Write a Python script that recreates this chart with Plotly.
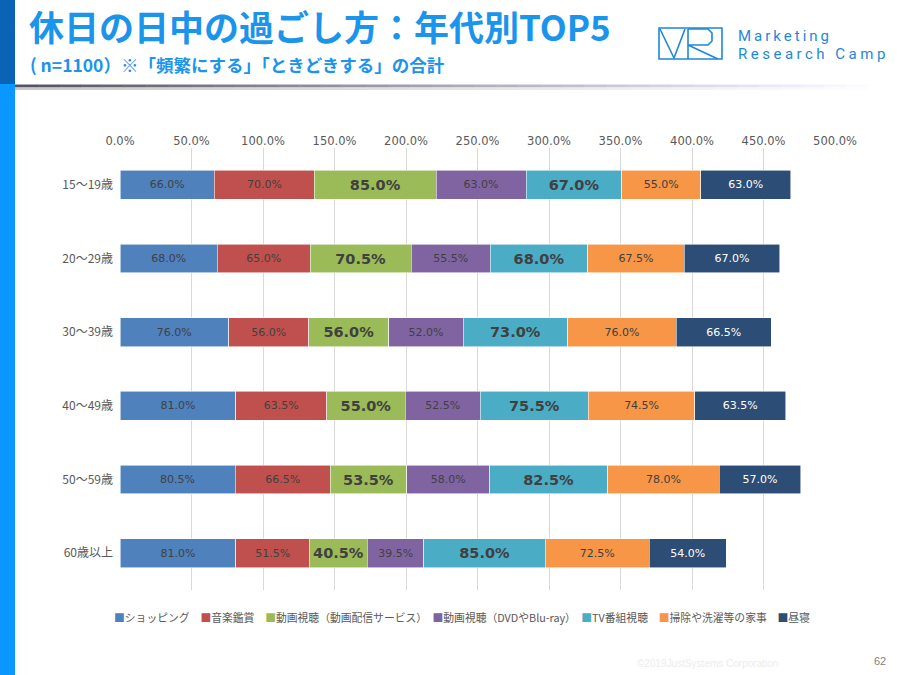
import plotly.graph_objects as go

# ---- data ----
age_groups = ["15〜19歳", "20〜29歳", "30〜39歳", "40〜49歳", "50〜59歳", "60歳以上"]
series_names = ["ショッピング", "音楽鑑賞", "動画視聴（動画配信サービス）", "動画視聴（DVDやBlu-ray）",
                "TV番組視聴", "掃除や洗濯等の家事", "昼寝"]
shopping = [66.0, 68.0, 76.0, 81.0, 80.5, 81.0]
music = [70.0, 65.0, 56.0, 63.5, 66.5, 51.5]
streaming = [85.0, 70.5, 56.0, 55.0, 53.5, 40.5]
dvd = [63.0, 55.5, 52.0, 52.5, 58.0, 39.5]
tv = [67.0, 68.0, 73.0, 75.5, 82.5, 85.0]
housework = [55.0, 67.5, 76.0, 74.5, 78.0, 72.5]
nap = [63.0, 67.0, 66.5, 63.5, 57.0, 54.0]
x_ticks = [0, 50, 100, 150, 200, 250, 300, 350, 400, 450, 500]

series_values = [shopping, music, streaming, dvd, tv, housework, nap]
colors = ["#4F81BD", "#C0504D", "#9BBB59", "#8064A2", "#4BACC6", "#F79646", "#2C4D75"]
bold_flags = [False, False, True, False, True, False, False]
label_colors = ["#404040"] * 6 + ["#FFFFFF"]

W, H = 900, 675
ML, MR, MT, MB = 120, 65, 148, 85
PW, PH = W - ML - MR, H - MT - MB


def fx(px):
    return (px - ML) / PW


def fy(py):
    return (H - MB - py) / PH


JP = "Noto Sans CJK JP, sans-serif"
NUM = "DejaVu Sans, Noto Sans CJK JP, sans-serif"

fig = go.Figure()
for name, vals, col, bold, lc in zip(series_names, series_values, colors, bold_flags, label_colors):
    fig.add_trace(go.Bar(
        y=age_groups, x=vals, name=name, orientation="h",
        marker=dict(color=col, line=dict(color="rgba(255,255,255,0.7)", width=0.8)),
        width=0.39,
        texttemplate=("<b>%{x:.1f}%</b>" if bold else "%{x:.1f}%"),
        textposition="inside", insidetextanchor="middle", constraintext="none",
        textfont=dict(family=NUM, size=(14.5 if bold else 11), color=lc),
        showlegend=False, hoverinfo="skip",
    ))

fig.update_layout(
    width=W, height=H, barmode="stack",
    margin=dict(l=ML, r=MR, t=MT, b=MB),
    paper_bgcolor="white", plot_bgcolor="white",
    font=dict(family=NUM, color="#595959", size=11),
    xaxis=dict(range=[0, 500], side="top", tickvals=x_ticks,
               ticktext=[f"{v:.1f}%" for v in x_ticks],
               showgrid=True, gridcolor="#D9D9D9", gridwidth=1, zeroline=False,
               showline=False, ticks="", tickfont=dict(size=11.5, color="#595959", family=NUM),
               fixedrange=True),
    yaxis=dict(autorange="reversed", showgrid=False, zeroline=False, showline=False,
               ticks="", tickfont=dict(size=12, color="#595959", family=JP),
               ticklabelstandoff=6, fixedrange=True),
    bargap=0.6,
)

shapes = []
# left strip
shapes.append(dict(type="rect", xref="paper", yref="paper", x0=fx(0), x1=fx(15), y0=fy(84), y1=fy(0),
                   fillcolor="#0B63B5", line=dict(width=0), layer="above"))
shapes.append(dict(type="rect", xref="paper", yref="paper", x0=fx(0), x1=fx(15), y0=fy(675), y1=fy(84),
                   fillcolor="#0A98FF", line=dict(width=0), layer="above"))
# header gradient line
nseg = 40
x_start, x_end = 15, 890
for i in range(nseg):
    t = i / (nseg - 1)
    g = int(85 + (255 - 85) * t)
    a0 = x_start + (x_end - x_start) * i / nseg
    a1 = x_start + (x_end - x_start) * (i + 1) / nseg
    shapes.append(dict(type="rect", xref="paper", yref="paper", x0=fx(a0), x1=fx(a1) + 0.0005,
                       y0=fy(87.5), y1=fy(84.5), fillcolor=f"rgb({g},{g},{min(255, g + 12)})",
                       line=dict(width=0), layer="above"))
    g2 = int(200 + (255 - 200) * t)
    shapes.append(dict(type="rect", xref="paper", yref="paper", x0=fx(a0), x1=fx(a1) + 0.0005,
                       y0=fy(90), y1=fy(87.5), fillcolor=f"rgb({g2},{g2},{g2})",
                       line=dict(width=0), layer="above"))
# logo
LC = "#1E88D8"
shapes.append(dict(type="rect", xref="paper", yref="paper", x0=fx(659), x1=fx(722), y0=fy(59), y1=fy(28),
                   line=dict(color=LC, width=1.6), fillcolor="rgba(0,0,0,0)", layer="above"))


def pth(pts):
    s = ""
    for i, (a, b) in enumerate(pts):
        s += ("M" if i == 0 else "L") + f"{fx(a):.5f},{fy(b):.5f} "
    return s


shapes.append(dict(type="path", xref="paper", yref="paper", path=pth([(660, 29), (674, 58), (685, 29)]),
                   line=dict(color=LC, width=1.6), layer="above"))
shapes.append(dict(type="path", xref="paper", yref="paper", path=pth([(688, 29), (688, 59)]),
                   line=dict(color=LC, width=1.6), layer="above"))
shapes.append(dict(type="path", xref="paper", yref="paper",
                   path=pth([(688, 29), (708, 29), (712, 33), (712, 41), (708, 45), (688, 45), (718, 59)]),
                   line=dict(color=LC, width=1.6), layer="above"))
fig.update_layout(shapes=shapes)

ann = []
ann.append(dict(text="<b>休日の日中の過ごし方：年代別TOP5</b>", xref="paper", yref="paper",
                x=fx(27), y=fy(25), xanchor="left", yanchor="middle", showarrow=False,
                font=dict(family=JP, size=35, color="#1B94EC")))
ann.append(dict(text="<b>( n=1100）※「頻繁にする」「ときどきする」の合計</b>", xref="paper", yref="paper",
                x=fx(28), y=fy(64.5), xanchor="left", yanchor="middle", showarrow=False,
                font=dict(family=JP, size=17.5, color="#1B94EC")))
ann.append(dict(text="<span style='letter-spacing:3px'>Marketing</span>", xref="paper", yref="paper",
                x=fx(736), y=fy(36), xanchor="left", yanchor="middle", showarrow=False,
                font=dict(family="Roboto, sans-serif", size=15, color=LC)))
ann.append(dict(text="<span style='letter-spacing:3.5px'>Research Camp</span>", xref="paper", yref="paper",
                x=fx(736), y=fy(54), xanchor="left", yanchor="middle", showarrow=False,
                font=dict(family="Roboto, sans-serif", size=15, color=LC)))
# legend (as text)
legend_parts = []
for name, col in zip(series_names, colors):
    legend_parts.append(f"<span style='color:{col}'>■</span>{name}")
ann.append(dict(text="　".join(legend_parts), xref="paper", yref="paper",
                x=fx(112), y=fy(617), xanchor="left", yanchor="middle", showarrow=False,
                font=dict(family=JP, size=10.8, color="#595959")))
ann.append(dict(text="©2019JustSystems Corporation", xref="paper", yref="paper",
                x=fx(707), y=fy(663), xanchor="center", yanchor="middle", showarrow=False,
                font=dict(family="Liberation Sans, sans-serif", size=10, color="#ECECEC")))
ann.append(dict(text="62", xref="paper", yref="paper",
                x=fx(888), y=fy(661), xanchor="right", yanchor="middle", showarrow=False,
                font=dict(family="Liberation Sans, sans-serif", size=11, color="#7F7F7F")))
fig.update_layout(annotations=ann)

fig.write_html("out.html", config={"displayModeBar": False},
               post_script="document.body.style.margin='0';document.body.style.overflow='hidden';")
